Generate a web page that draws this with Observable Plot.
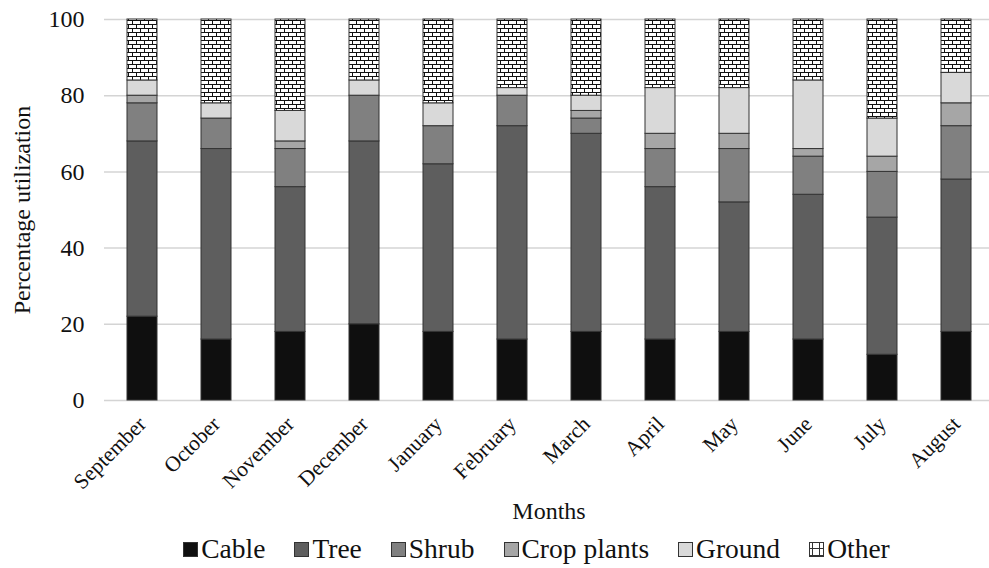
<!DOCTYPE html>
<html>
<head>
<meta charset="utf-8">
<script src="https://cdn.jsdelivr.net/npm/d3@7"></script>
<script src="https://cdn.jsdelivr.net/npm/@observablehq/plot@0.6"></script>
<style>
  html, body { margin: 0; padding: 0; background: #fff; }
  #chart { width: 989px; height: 568px; position: relative; font-family: "Liberation Serif", "Times New Roman", serif; }
  #legend { display: flex; justify-content: center; align-items: center; height: 38px; font-size: 27.5px; color: #111; gap: 29px; padding-left: 84px; box-sizing: border-box; }
  .item { display: flex; align-items: center; }
  .item svg { margin-right: 3px; }
</style>
</head>
<body>
<div id="chart"></div>
<script>
const months = ["September","October","November","December","January","February","March","April","May","June","July","August"];
const categories = ["Cable","Tree","Shrub","Crop plants","Ground","Other"];
const cable  = [22,16,18,20,18,16,18,16,18,16,12,18];
const tree   = [46,50,38,48,44,56,52,40,34,38,36,40];
const shrub  = [10, 8,10,12,10, 8, 4,10,14,10,12,14];
const crop   = [ 2, 0, 2, 0, 0, 0, 2, 4, 4, 2, 4, 6];
const ground = [ 4, 4, 8, 4, 6, 2, 4,12,12,18,10, 8];
const other  = [16,22,24,16,22,18,20,18,18,16,26,14];
const yTicks = [0,20,40,60,80,100];
const fills = ["#0f0f0f","#5e5e5e","#808080","#a6a6a6","#d9d9d9","url(#brick)"];

const series = [cable, tree, shrub, crop, ground, other];
const data = [];
months.forEach((m, i) => {
  categories.forEach((c, k) => {
    if (series[k][i] > 0) data.push({month: m, type: c, value: series[k][i]});
  });
});

const plot = Plot.plot({
  width: 989,
  height: 530,
  marginLeft: 104,
  marginRight: -4,
  marginTop: 19,
  marginBottom: 130,
  style: {fontFamily: "Liberation Serif, Times New Roman, serif", fontSize: "24px", color: "#111", background: "#fff"},
  x: {domain: months, paddingInner: 0.6, paddingOuter: 0.3, label: null},
  y: {domain: [0, 100], label: null},
  color: {type: "ordinal", domain: categories, range: fills},
  marks: [
    Plot.gridY(yTicks, {stroke: "#d4d4d4", strokeOpacity: 1, strokeWidth: 1.5}),
    Plot.barY(data, Plot.stackY({x: "month", y: "value", fill: "type", stroke: "#333", strokeWidth: 1, order: categories})),
    Plot.axisY(yTicks, {tickSize: 0, tickPadding: 20, fontSize: 24, label: "Percentage utilization", labelAnchor: "center", labelOffset: 92, labelArrow: "none"}),
    Plot.axisX({tickSize: 0, tickPadding: 20, tickRotate: -45, fontSize: 21.5, label: "Months", labelAnchor: "center", labelOffset: 118, labelArrow: "none"})
  ]
});

d3.select(plot).insert("defs", ":first-child").html(
  '<pattern id="brick" patternUnits="userSpaceOnUse" width="8" height="8">' +
  '<rect width="8" height="8" fill="#111"/>' +
  '<rect x="1" y="1" width="7" height="3" fill="#fff"/>' +
  '<rect x="0" y="5" width="4" height="3" fill="#fff"/>' +
  '<rect x="5" y="5" width="3" height="3" fill="#fff"/>' +
  '</pattern>'
);
d3.select(plot).selectAll("[aria-label='y-axis label'] text, [aria-label='x-axis label'] text").attr("font-size", 24);

const chart = document.getElementById("chart");
chart.appendChild(plot);

const legend = document.createElement("div");
legend.id = "legend";
categories.forEach((c, k) => {
  const item = document.createElement("div");
  item.className = "item";
  const sw = k === 5
    ? '<svg width="15" height="15"><defs><pattern id="brickL" patternUnits="userSpaceOnUse" width="7" height="7"><rect width="7" height="7" fill="#fff"/><path d="M0,6.5H7M3.5,0V7" stroke="#333" stroke-width="1"/></pattern></defs><rect x="0.5" y="0.5" width="14" height="14" fill="url(#brickL)" stroke="#333"/></svg>'
    : `<svg width="15" height="15"><rect x="0.5" y="0.5" width="14" height="14" fill="${fills[k]}" stroke="#333"/></svg>`;
  item.innerHTML = sw + `<span>${c}</span>`;
  legend.appendChild(item);
});
chart.appendChild(legend);
</script>
</body>
</html>
